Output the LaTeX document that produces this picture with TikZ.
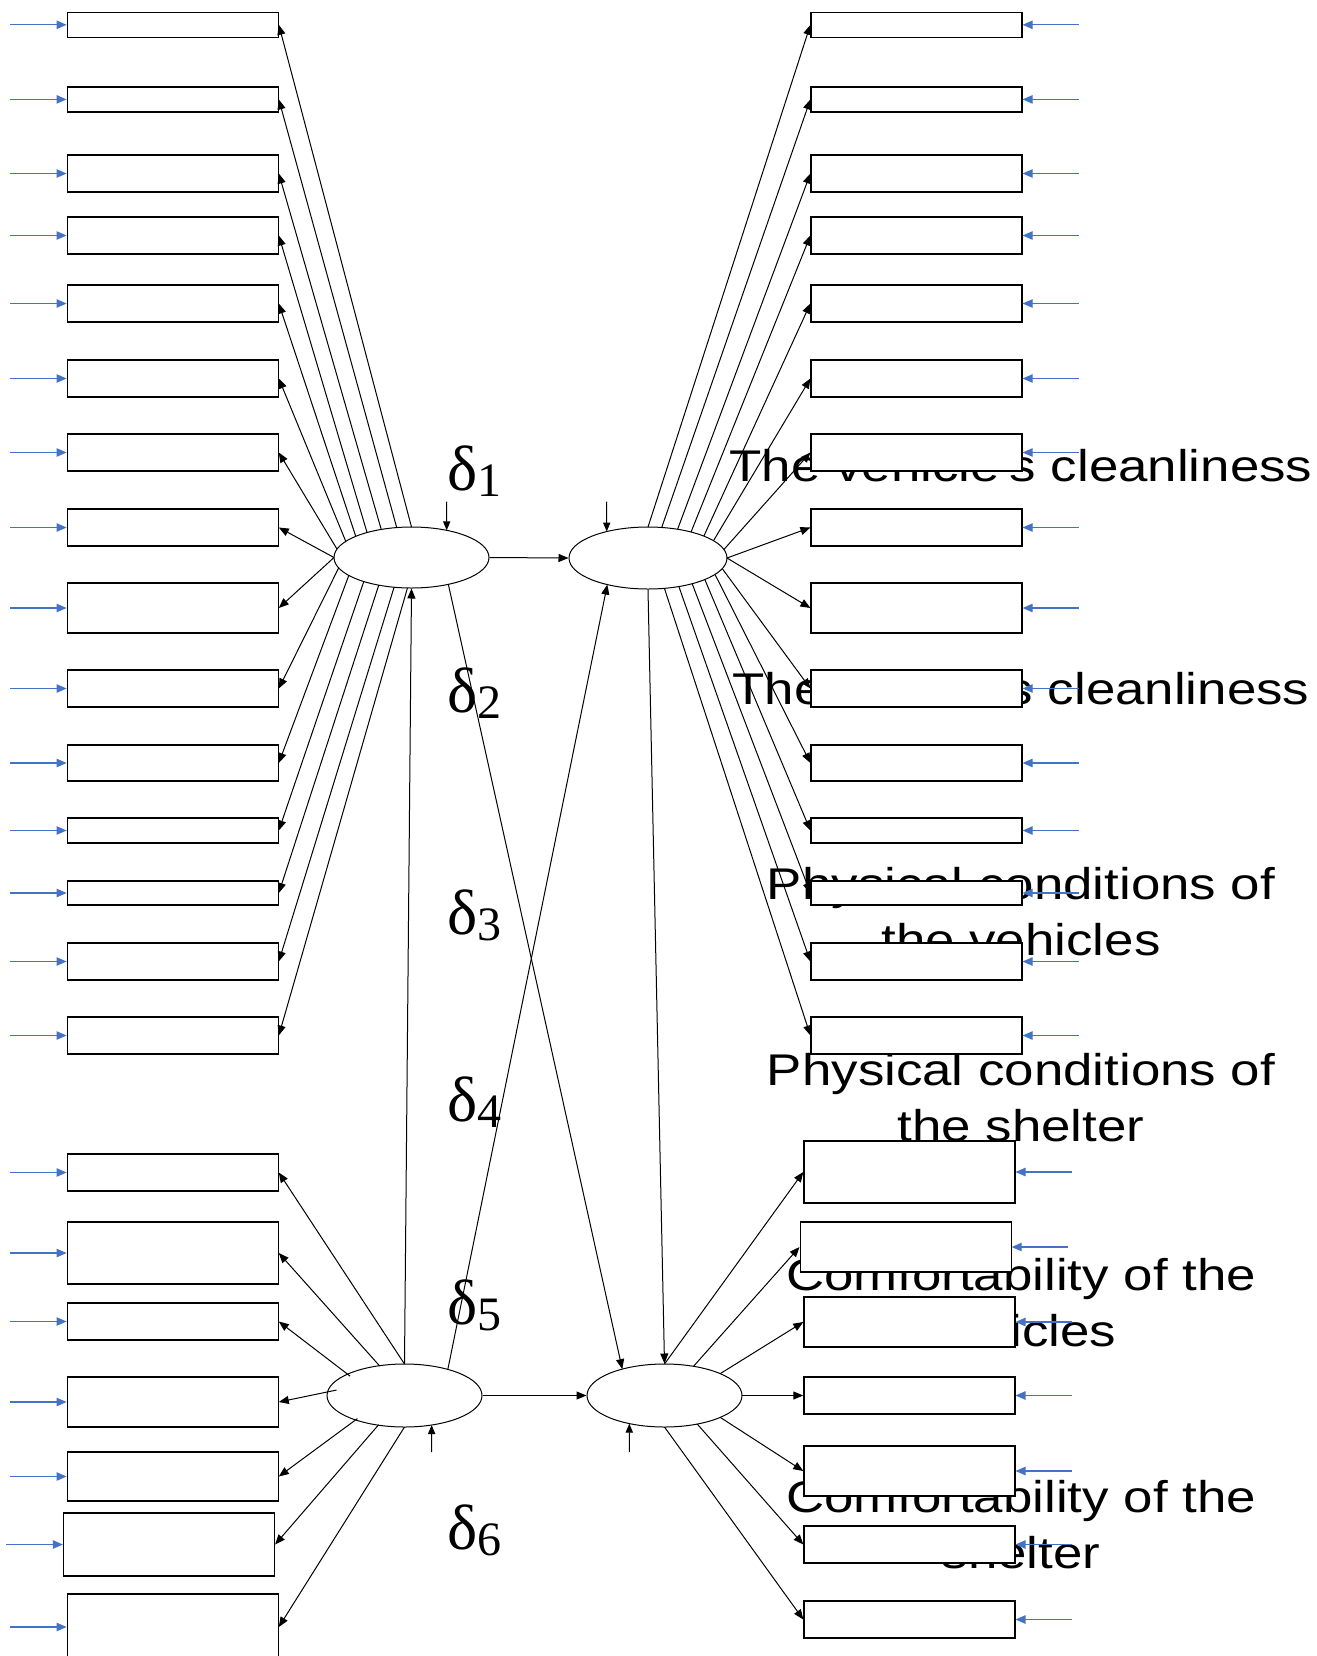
\documentclass[tikz,border=0pt]{standalone}
\usepackage{fontspec}
\newfontfamily\labelfont[FakeStretch=1.19]{Liberation Sans}
\newfontfamily\deltafont{Liberation Serif}
\definecolor{ErrBlue}{HTML}{4472C4}
\usetikzlibrary{arrows.meta, calc, shapes.geometric}
\tikzset{
  box/.style={draw, line width=0.6pt, fill=white, minimum width=105.5pt, inner sep=0pt},
  latent/.style={draw, ellipse, line width=0.5pt, inner sep=0pt},
  arr/.style={-{Triangle[length=5pt, width=4pt]}, line width=0.5pt},
  small/.style={-{Triangle[length=4.5pt, width=3.6pt]}, line width=0.5pt},
  err/.style={-{Triangle[length=5pt, width=4.2pt]}, line width=0.6pt, draw=ErrBlue},
  lab/.style={font=\labelfont\fontsize{22.2}{28}\selectfont, align=center, anchor=south, inner sep=0pt},
  dlab/.style={font=\deltafont\fontsize{32}{32}\selectfont, anchor=base west, inner sep=0pt}
}
\newcommand{\dsub}[1]{δ\raisebox{-3.4pt}{\fontsize{24}{24}\selectfont #1}}

\begin{document}
\begin{tikzpicture}[x=0.5pt, y=-0.5pt]
\useasboundingbox (0,0) rectangle (1317,1656);

% factor names (partly hidden behind the item boxes)
\node[lab] (t1) at (1021,482) {The vehicle's cleanliness};
\node[lab] (t2) at (1021,705) {The shelter's cleanliness};
\node[lab] (t3) at (1021,956) {Physical conditions of\\the vehicles};
\node[lab] (t4) at (1021,1142) {Physical conditions of\\the shelter};
\node[lab] (t5) at (1021,1347) {Comfortability of the\\vehicles};
\node[lab] (t6) at (1021,1569) {Comfortability of the\\shelter};

\node[dlab] (d1) at (446.7,490) {\dsub{1}};
\node[dlab] (d2) at (446.7,712) {\dsub{2}};
\node[dlab] (d3) at (446.7,934) {\dsub{3}};
\node[dlab] (d4) at (446.7,1121) {\dsub{4}};
\node[dlab] (d5) at (446.7,1324) {\dsub{5}};
\node[dlab] (d6) at (446.7,1549) {\dsub{6}};

% item boxes
\foreach \i/\y/\h in {1/24.8/12.5pt, 2/99.4/12.5pt, 3/173.5/18.5pt, 4/235.5/18.5pt, 5/303.5/18.5pt,
    6/378.5/18.5pt, 7/452.5/18.5pt, 8/527.5/18.5pt, 9/608/25pt, 10/688.5/18.5pt, 11/763/18pt,
    12/830.5/12.5pt, 13/893/12pt, 14/961.5/18.5pt, 15/1035.5/18.5pt}{
  \node[box, minimum height=\h] (ql\i) at (172.7,\y) {};
  \node[box, minimum height=\h] (qr\i) at (916.5,\y) {};
}
\foreach \i/\x/\y/\h in {16/172.7/1172.5/18.5pt, 17/172.7/1253/31pt, 18/172.7/1321.5/18.5pt,
    19/172.7/1402/25pt, 20/172.7/1476.5/24.5pt, 21/169/1544.5/31.5pt, 22/172.7/1627/33pt}
  \node[box, minimum height=\h] (ql\i) at (\x,\y) {};
\foreach \i/\x/\y/\h in {16/909.4/1172/31pt, 17/905.6/1247/25pt, 18/909.4/1322/25pt,
    19/909.4/1395.5/18.5pt, 20/909.4/1471/25pt, 21/909.4/1544.5/18.5pt, 22/909.4/1619.5/18.5pt}
  \node[box, minimum height=\h] (qr\i) at (\x,\y) {};

% latent variables
\node[latent, minimum width=77.5pt, minimum height=30.5pt] (lv1) at (411.5,557.5) {};
\node[latent, minimum width=79pt, minimum height=31pt] (lv2) at (648,558) {};
\node[latent, minimum width=77.5pt, minimum height=31.5pt] (lv3) at (404.5,1395.5) {};
\node[latent, minimum width=77.5pt, minimum height=31.5pt] (lv4) at (664.5,1395.5) {};

% loadings
\foreach \i/\a in {1/90, 2/101, 3/113, 4/125, 5/136, 6/148, 7/164, 8/180, 9/180,
    10/200, 11/216, 12/232, 13/245, 14/257, 15/267}
  \draw[arr] ($(lv1)+(\a:38.75pt and 15.25pt)$) -- (ql\i.east);
\foreach \i/\a in {1/90, 2/80, 3/68, 4/57, 5/45, 6/34, 7/16, 8/0, 9/0,
    10/-20, 11/-32, 12/-44, 13/-56, 14/-67, 15/-78}
  \draw[arr] ($(lv2)+(\a:39.5pt and 15.5pt)$) -- (qr\i.west);
\foreach \i/\a in {16/90, 17/111, 18/142, 19/170, 20/227, 21/248, 22/270}
  \draw[arr] ($(lv3)+(\a:34.5pt and 15.75pt)$) -- (ql\i.east);
\foreach \i/\a in {16/90, 17/68, 18/44, 19/0, 20/-44, 21/-65, 22/-90}
  \draw[arr] ($(lv4)+(\a:38.75pt and 15.75pt)$) -- (qr\i.west);

% paths between factors
\draw[arr] (lv1.east) -- (lv2.west);
\draw[arr] (lv3.east) -- (lv4.west);
\draw[arr] (lv3.north) -- (lv1.south);
\draw[arr] (lv2.south) -- (lv4.north);
\draw[arr] ($(lv1)+(-61.6:38.75pt and 15.25pt)$) -- ($(lv4)+(123:38.75pt and 15.75pt)$);
\draw[arr] ($(lv3)+(56:38.75pt and 15.75pt)$) -- ($(lv2)+(-121:39.5pt and 15.5pt)$);

% disturbances
\coordinate (z1) at (446.7,501.7);
\coordinate (z2) at (606.7,501.7);
\coordinate (z3) at (431.6,1452);
\coordinate (z4) at (629.3,1452);
\draw[small] (z1) -- ($(lv1)+(63:38.75pt and 15.25pt)$);
\draw[small] (z2) -- ($(lv2)+(121.5:39.5pt and 15.5pt)$);
\draw[small] (z3) -- ($(lv3)+(-69.5:38.75pt and 15.75pt)$);
\draw[small] (z4) -- ($(lv4)+(-117:38.75pt and 15.75pt)$);

% measurement errors
\foreach \i in {1,...,22}{
  \draw[err] ([xshift=-28.3pt]ql\i.west) -- (ql\i.west);
  \draw[err] ([xshift=28pt]qr\i.east) -- (qr\i.east);
}
\end{tikzpicture}
\end{document}
